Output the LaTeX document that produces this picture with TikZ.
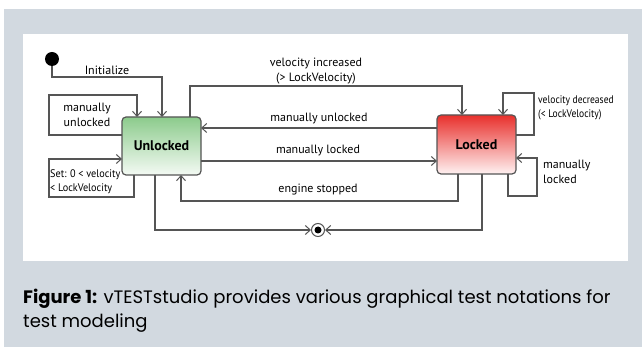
\documentclass[tikz,border=0pt]{standalone}
\usepackage{fontspec}
\setmainfont{PT Sans}
\newfontfamily\capfont{Poppins}
\usetikzlibrary{arrows.meta}
\definecolor{bggray}{HTML}{D2D9E0}
\definecolor{linegray}{HTML}{555555}
\definecolor{gtop}{HTML}{8CCB8C}
\definecolor{gbot}{HTML}{F4FAF4}
\definecolor{rtop}{HTML}{E8302C}
\definecolor{rbot}{HTML}{FFF2F2}
\begin{document}
\begin{tikzpicture}[x=1pt,y=-1pt,
  conn/.style={draw=linegray,line width=1.2pt,-{Straight Barb[length=5pt,width=9pt,line width=1pt]}},
  lbl/.style={font=\fontsize{12}{14.5}\selectfont,text=black,inner sep=0pt,align=center},
  smalllbl/.style={font=\fontsize{11}{14}\selectfont,text=black,inner sep=0pt,align=left},
  statebox/.style={draw=linegray,line width=1.2pt,rounded corners=4pt,minimum width=79pt,inner sep=0pt,font=\fontsize{14}{16}\selectfont\bfseries},
  capstyle/.style={anchor=base west,inner sep=0pt,font=\capfont\fontsize{18}{22}\selectfont}
]
\path[use as bounding box] (0,0) rectangle (642,347);
\fill[white] (0,0) rectangle (642,347);
\fill[bggray] (4,9) rectangle (642,347);
\fill[white] (23,34) rectangle (628,261);

% states
\node[statebox,minimum height=58pt,top color=gtop,bottom color=gbot] (U) at (161.5,146) {Unlocked};
\node[statebox,minimum height=59pt,top color=rtop,bottom color=rbot] (L) at (476.5,144.5) {Locked};

% initial and final
\node[circle,fill=black,minimum size=14pt,inner sep=0pt] (init) at (52,59) {};
\node[circle,draw=linegray,line width=1pt,fill=white,minimum size=13pt,inner sep=0pt] (fin) at (318,230) {};
\node[circle,fill=black,minimum size=7pt,inner sep=0pt] (finc) at (318,230) {};

\coordinate (i1) at (52,77);
\coordinate (i2) at (162,77);

% Initialize
\draw[conn] (init.south) -- (i1) -- (i2) -- (162,117);
\node[lbl] (tInit) at (107,70) {Initialize};

% manually unlocked self loop on Unlocked
\draw[conn] (122,135) -- (49,135) -- (49,95) -- (137,95) -- (137,117);
\node[lbl] (tmu) at (87,115) {manually\\unlocked};

% Set loop
\draw[conn] (134,175) -- (134,197) -- (49,197) -- (49,159) -- (122,159);
\node[smalllbl,anchor=west] (tset) at (50,182) {\scalebox{0.93}[1]{Set: 0 < velocity}\\\scalebox{0.93}[1]{< LockVelocity}};

% Unlocked -> final
\draw[conn] (155,175) -- (155,230) -- (fin.west);
% Locked -> final
\draw[conn] (482,174) -- (482,230) -- (fin.east);

% engine stopped
\draw[conn] (458,174) -- (458,201) -- (181,201) -- (181,175);
\node[lbl] (tes) at (318,190) {engine stopped};

% velocity increased
\draw[conn] (190,117) -- (190,86) -- (462,86) -- (462,115);
\node[lbl] (tvi) at (316,71) {velocity increased\\(> LockVelocity)};

% manually unlocked
\draw[conn] (437,128) -- (201,128);
\node[lbl] (tmu2) at (319,119) {manually unlocked};

% manually locked
\draw[conn] (201,161) -- (437,161);
\node[lbl] (tml) at (318,151) {manually locked};

% velocity decreased loop
\draw[conn] (516,135) -- (534,135) -- (534,93) -- (503,93) -- (503,115);
\node[smalllbl,anchor=west] (tvd) at (538,108) {\scalebox{0.87}[1]{velocity decreased}\\\scalebox{0.87}[1]{(< LockVelocity)}};

% manually locked loop
\draw[conn] (508,174) -- (508,196) -- (537,196) -- (537,158) -- (516,158);
\node[lbl,align=left,anchor=west] (tml2) at (543,172) {manually\\locked};

% caption
\node[capstyle] (cap1) at (23,303) {\textbf{Figure 1:} vTESTstudio provides various graphical test notations for};
\node[capstyle] (cap2) at (23,327) {test modeling};
\end{tikzpicture}
\end{document}
